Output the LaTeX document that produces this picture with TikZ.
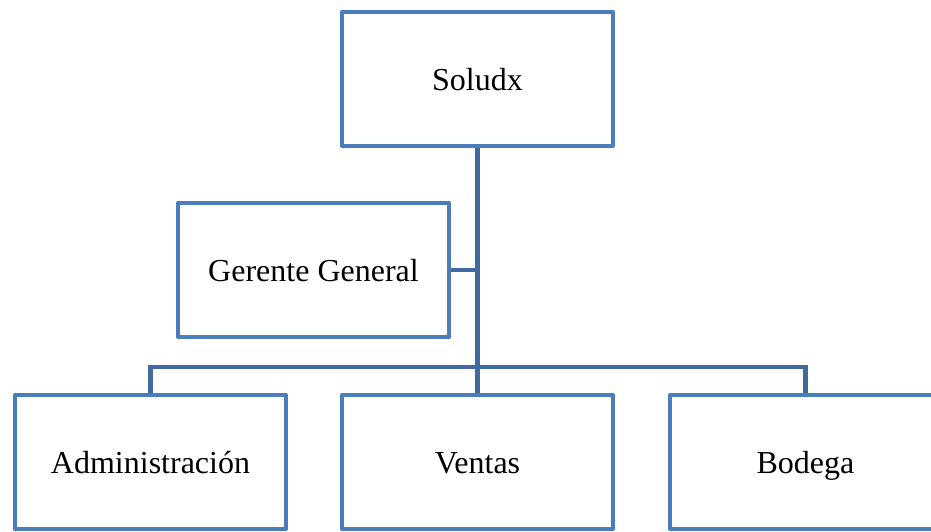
\documentclass[tikz,border=0pt]{standalone}
\usepackage{fontspec}
\setmainfont{Liberation Serif}
\usetikzlibrary{positioning,calc}
\definecolor{boxline}{RGB}{74,126,187}
\definecolor{conline}{RGB}{64,106,160}

\begin{document}
\begin{tikzpicture}[x=1pt, y=-1pt, font=\fontsize{32}{36}\selectfont,
  unit/.style={draw=boxline, line width=4pt, line join=round, fill=white, align=center, minimum width=271pt, minimum height=134pt, inner sep=0pt, text height=24pt, text depth=2pt},
  con/.style={draw=conline, line width=4.5pt}]
\useasboundingbox (0,0) rectangle (931,531);
\coordinate (bus) at (477.5,367);
\node[unit] (top) at (477.5,79) {Soludx};
\node[unit] (gerente) at (313.5,270) {Gerente General};
\node[unit] (admin) at (150.5,462) {Administración};
\node[unit] (ventas) at (477.5,462) {Ventas};
\node[unit] (bodega) at (805.5,462) {Bodega};
\draw[con] (top.south) -- (ventas.north);
\draw[con] (gerente.east) -- (gerente.east -| top.south);
\draw[con] (admin.north) |- (bus) -| (bodega.north);
\end{tikzpicture}
\end{document}
